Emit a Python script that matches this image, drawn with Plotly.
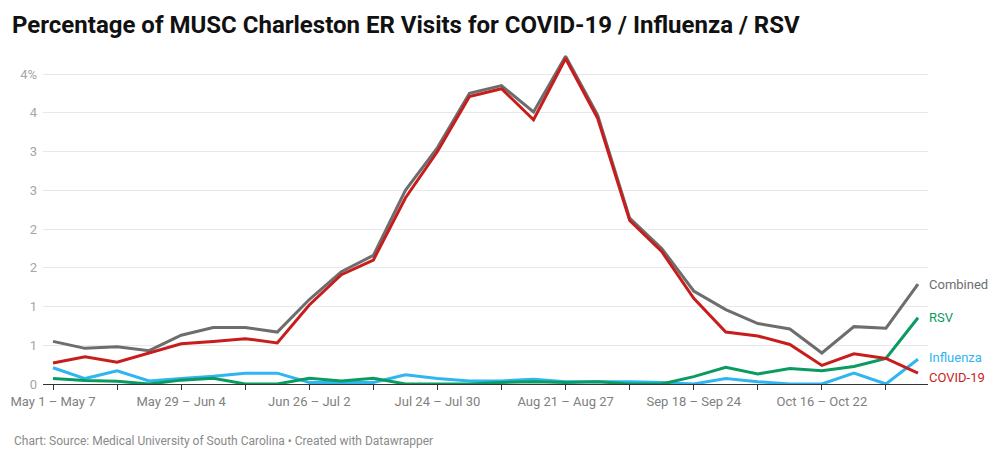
import plotly.graph_objects as go

weeks = [
    "May 1 – May 7", "May 8 – May 14", "May 15 – May 21", "May 22 – May 28",
    "May 29 – Jun 4", "Jun 5 – Jun 11", "Jun 12 – Jun 18", "Jun 19 – Jun 25",
    "Jun 26 – Jul 2", "Jul 3 – Jul 9", "Jul 10 – Jul 16", "Jul 17 – Jul 23",
    "Jul 24 – Jul 30", "Jul 31 – Aug 6", "Aug 7 – Aug 13", "Aug 14 – Aug 20",
    "Aug 21 – Aug 27", "Aug 28 – Sep 3", "Sep 4 – Sep 10", "Sep 11 – Sep 17",
    "Sep 18 – Sep 24", "Sep 25 – Oct 1", "Oct 2 – Oct 8", "Oct 9 – Oct 15",
    "Oct 16 – Oct 22", "Oct 23 – Oct 29", "Oct 30 – Nov 5", "Nov 6 – Nov 12",
]

combined = [0.55, 0.46, 0.48, 0.43, 0.63, 0.73, 0.73, 0.67, 1.09, 1.45, 1.66, 2.50,
            3.05, 3.75, 3.85, 3.51, 4.23, 3.47, 2.14, 1.75, 1.20, 0.96, 0.78, 0.71,
            0.40, 0.74, 0.72, 1.29]
covid = [0.27, 0.35, 0.28, 0.40, 0.52, 0.55, 0.585, 0.53, 1.02, 1.41, 1.60, 2.40,
         3.00, 3.71, 3.81, 3.41, 4.20, 3.43, 2.11, 1.71, 1.105, 0.67, 0.62, 0.51,
         0.24, 0.39, 0.33, 0.14]
influenza = [0.21, 0.07, 0.17, 0.04, 0.07, 0.10, 0.14, 0.14, 0.02, 0.02, 0.02, 0.12,
             0.07, 0.04, 0.04, 0.06, 0.03, 0.03, 0.03, 0.02, 0.0, 0.07, 0.03, 0.0,
             0.0, 0.14, 0.0, 0.32]
rsv = [0.07, 0.045, 0.035, 0.0, 0.05, 0.075, 0.0, 0.0, 0.075, 0.04, 0.075, 0.0,
       0.0, 0.0, 0.02, 0.03, 0.02, 0.03, 0.0, 0.0, 0.095, 0.215, 0.13, 0.2,
       0.17, 0.225, 0.33, 0.855]

y_tickvals = [0, 0.5, 1, 1.5, 2, 2.5, 3, 3.5, 4]
y_ticktext = ["0", "1", "1", "2", "2", "3", "3", "4", "4%"]

series = [
    ("Combined", combined, "#6d6d6d", 0),
    ("Influenza", influenza, "#2fb5f0", 2),
    ("RSV", rsv, "#0a9b61", 0),
    ("COVID-19", covid, "#c71e1d", -4),
]

FONT = "Roboto"
fig = go.Figure()
for name, vals, color, _ in series:
    fig.add_trace(go.Scatter(x=weeks, y=vals, mode="lines", name=name,
                             line=dict(color=color, width=3), hoverinfo="skip"))

for name, vals, color, ys in series:
    fig.add_annotation(x=weeks[-1], y=vals[-1], xref="x", yref="y", text=name,
                       showarrow=False, xanchor="left", yanchor="middle",
                       xshift=9, yshift=ys,
                       font=dict(family=FONT, size=13, color=color))

x_tickvals = weeks[::2]
x_ticktext = [w if i % 2 == 0 else "" for i, w in enumerate(x_tickvals)]

fig.update_layout(
    width=999, height=459,
    margin=dict(l=43, r=71, t=43, b=75),
    paper_bgcolor="white", plot_bgcolor="white",
    showlegend=False,
    font=dict(family=FONT),
    title=dict(text="<b>Percentage of MUSC Charleston ER Visits for COVID-19 / Influenza / RSV</b>",
               xref="container", yref="container", x=12/999, xanchor="left",
               y=1 - 25/459, yanchor="middle",
               font=dict(family=FONT, size=24, color="#111")),
    xaxis=dict(type="category", range=[-0.3125, 27.3125],
               tickmode="array", tickvals=x_tickvals, ticktext=x_ticktext,
               ticks="outside", ticklen=5, tickcolor="#333", tickwidth=1,
               showline=True, linecolor="#333", linewidth=1,
               showgrid=False, zeroline=False,
               tickfont=dict(family=FONT, size=13, color="#808080")),
    yaxis=dict(range=[0, 4.4], tickmode="array", tickvals=y_tickvals, ticktext=y_ticktext,
               showgrid=True, gridcolor="#e8e8e8", gridwidth=1, zeroline=False,
               ticks="", ticklabelstandoff=5,
               tickfont=dict(family=FONT, size=13, color="#a6a6a6")),
)

fig.add_annotation(text="Chart: Source: Medical University of South Carolina • Created with Datawrapper",
                   xref="paper", yref="paper", x=-31/885, y=-(441-384)/341,
                   xanchor="left", yanchor="middle", showarrow=False,
                   font=dict(family=FONT, size=12, color="#8a8a8a"))

fig.write_html("out.html", config={"displayModeBar": False},
               post_script="document.body.style.margin='0';")
